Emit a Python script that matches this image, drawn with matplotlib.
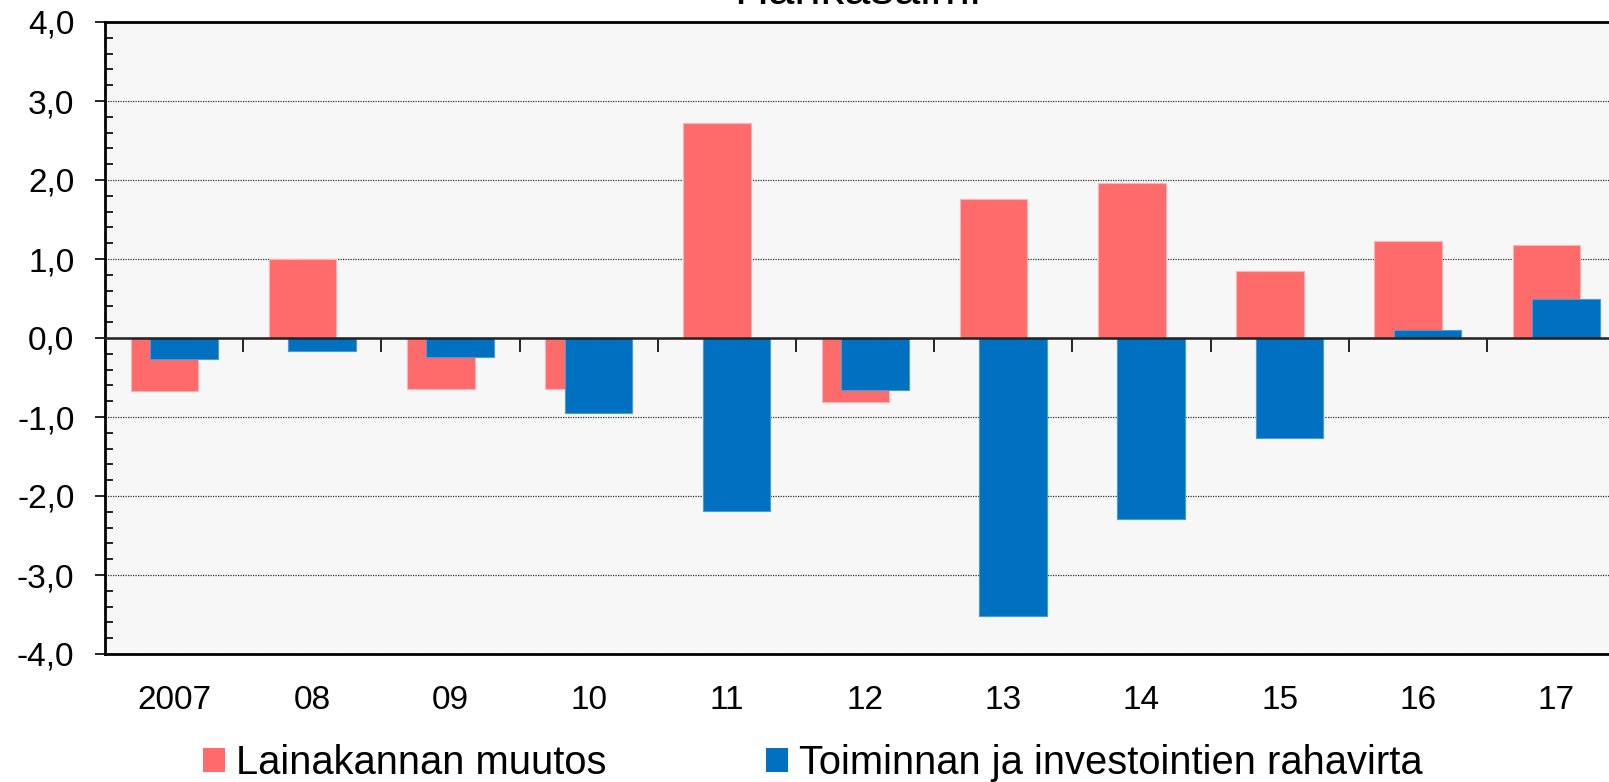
import numpy as np
import matplotlib
matplotlib.use('Agg')
from matplotlib import pyplot as plt
from matplotlib.patches import Patch
from matplotlib.ticker import MultipleLocator, FixedLocator, FuncFormatter, NullFormatter

plt.rcParams['font.family'] = ['Liberation Sans', 'DejaVu Sans']

# Data (billion euros)
years = ['2007', '08', '09', '10', '11', '12', '13', '14', '15', '16', '17']
lainakanta = [-0.67, 1.00, -0.65, -0.65, 2.72, -0.81, 1.76, 1.96, 0.85, 1.23, 1.18]
rahavirta = [-0.26, -0.17, -0.24, -0.95, -2.19, -0.66, -3.52, -2.29, -1.26, 0.10, 0.50]
series_names = ['Lainakannan muutos', 'Toiminnan ja investointien rahavirta']
title = 'Hankasalmi'

red = '#FF6B6B'
blue = '#0070C0'

W, H = 1609, 782
fig = plt.figure(figsize=(W / 100, H / 100), dpi=100)
# axes runs past the right edge like in the source picture
ax = fig.add_axes([105 / W, (H - 654) / H, 11 * 138.2 / W, 632 / H])
ax.set_facecolor('#F7F7F7')

x = np.arange(len(years))
w = 0.49
ax.bar(x - 0.07, lainakanta, w, color=red, edgecolor='#FFB3B3', linewidth=0.8, zorder=2)
ax.bar(x + 0.07, rahavirta, w, color=blue, edgecolor='#4A9AD8', linewidth=0.8, zorder=3)

ax.set_xlim(-0.5, len(years) - 0.5)
ax.set_ylim(-4, 4)

# y axis
ax.yaxis.set_major_locator(MultipleLocator(1))
ax.yaxis.set_minor_locator(MultipleLocator(0.2))
ax.yaxis.set_major_formatter(FuncFormatter(lambda v, p: ('%.1f' % v).replace('.', ',')))
ax.tick_params(axis='y', which='major', direction='out', length=7, width=1.2, labelsize=24, pad=15)
ax.tick_params(axis='y', which='minor', direction='in', length=6, width=1.2)
ax.grid(axis='y', which='major', linestyle=(0, (1, 1)), color='#333333', linewidth=0.9, zorder=0)

# x labels at the bottom, no ticks
ax.set_xticks(x)
ax.set_xticklabels(years)
ax.tick_params(axis='x', which='major', length=0, labelsize=24, pad=22)

for s in ['top', 'bottom', 'left', 'right']:
    ax.spines[s].set_linewidth(2)
    ax.spines[s].set_color('black')

# zero line with category-boundary ticks pointing down
zero = ax.secondary_xaxis(0.5)
zero.xaxis.set_major_locator(FixedLocator(np.arange(len(years) + 1) - 0.5))
zero.xaxis.set_major_formatter(NullFormatter())
zero.tick_params(axis='x', direction='in', length=10, width=1.2,
                 labelbottom=False, labeltop=False)
for s in zero.spines:
    zero.spines[s].set_linewidth(1.8)
    zero.spines[s].set_color('#222222')
zero.set_zorder(4)

fig.text(857 / W, 1 - 4 / H, title, ha='center', va='baseline', fontsize=34)

handles = [Patch(facecolor=red), Patch(facecolor=blue)]
fig.legend(handles, series_names, loc='center', bbox_to_anchor=(813 / W, 19 / H),
           ncol=2, frameon=False, fontsize=28.7, handlelength=0.55, handleheight=0.55,
           handletextpad=0.28, columnspacing=4.0, borderaxespad=0, borderpad=0)

fig.savefig('out.png', dpi=100)
